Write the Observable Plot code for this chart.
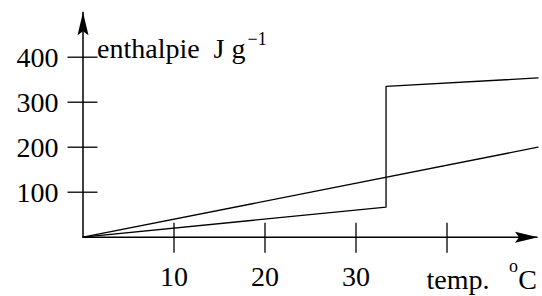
<!DOCTYPE html>
<html>
<head>
<meta charset="utf-8">
<script src="https://cdn.jsdelivr.net/npm/d3@7"></script>
<script src="https://cdn.jsdelivr.net/npm/@observablehq/plot@0.6"></script>
<style>
  html, body { margin: 0; padding: 0; background: #fff; }
  svg { display: block; }
</style>
</head>
<body>
<div id="chart"></div>
<script>
// Data
const tempA = [0, 50];
const enthA = [0, 200];
const tempB = [0, 33.3, 33.3, 50];
const enthB = [0, 67, 335, 354];
const xTicks = [10, 20, 30, 40];
const xTickLabels = ["10", "20", "30", ""];
const yTicks = [100, 200, 300, 400];
const yTickLabels = ["100", "200", "300", "400"];
const yLabel = "enthalpie  J g";
const yLabelSup = "\u22121";
const xLabel = "temp.";
const xLabelSup = "o";
const xLabelUnit = "C";

const lineA = tempA.map((t, i) => ({t, h: enthA[i]}));
const lineB = tempB.map((t, i) => ({t, h: enthB[i]}));

const arrowHead = {
  draw(context) {
    context.moveTo(0, 0);
    context.lineTo(-23, -5.5);
    context.lineTo(-19, 0);
    context.lineTo(-23, 5.5);
    context.closePath();
  }
};

const font = "Liberation Serif, Times New Roman, serif";
const fs = 28;
const fsSup = 18;

const chart = Plot.plot({
  width: 542,
  height: 296,
  marginLeft: 82.5,
  marginRight: 4.5,
  marginTop: 11.7,
  marginBottom: 59.3,
  x: {domain: [0, 50], axis: null},
  y: {domain: [0, 500], axis: null},
  style: {fontFamily: font, background: "#fff"},
  marks: [
    Plot.ruleY([0], {stroke: "#000", strokeWidth: 1.5}),
    Plot.ruleX([0], {stroke: "#000", strokeWidth: 1.5}),
    Plot.ruleX(xTicks, {x: d => d, y1: 0, y2: 0, insetTop: -14, insetBottom: -16, stroke: "#000", strokeWidth: 1.3}),
    Plot.ruleY(yTicks, {y: d => d, x1: 0, x2: 0, insetLeft: -15, insetRight: -15, stroke: "#000", strokeWidth: 1.3}),
    Plot.dot([{t: 50, h: 0}], {x: "t", y: "h", symbol: arrowHead, r: 5, fill: "#000", stroke: null}),
    Plot.dot([{t: 0, h: 500}], {x: "t", y: "h", symbol: arrowHead, r: 5, fill: "#000", stroke: null, rotate: -90}),
    Plot.line(lineA, {x: "t", y: "h", stroke: "#000", strokeWidth: 1.3}),
    Plot.line(lineB, {x: "t", y: "h", stroke: "#000", strokeWidth: 1.3}),
    Plot.text(xTicks, {x: d => d, y: 0, text: (d, i) => xTickLabels[i], dy: 48.5, lineAnchor: "bottom", fontSize: fs, fill: "#000"}),
    Plot.text(yTicks, {x: 0, y: d => d, text: (d, i) => yTickLabels[i], dx: -24.5, dy: 10, textAnchor: "end", lineAnchor: "bottom", fontSize: fs, fill: "#000"}),
    Plot.text([yLabel], {x: 0, y: 400, text: d => d, dx: 14, dy: 0.5, textAnchor: "start", lineAnchor: "bottom", fontSize: fs, fill: "#000"}),
    Plot.text([yLabelSup], {x: 0, y: 400, text: d => d, dx: 164.5, dy: -12.5, textAnchor: "start", lineAnchor: "bottom", fontSize: fsSup, fill: "#000"}),
    Plot.text([xLabel], {x: 50, y: 0, text: d => d, dx: -111.5, dy: 51.3, textAnchor: "start", lineAnchor: "bottom", fontSize: fs, fill: "#000"}),
    Plot.text([xLabelSup], {x: 50, y: 0, text: d => d, dx: -29, dy: 35, textAnchor: "start", lineAnchor: "bottom", fontSize: fsSup, fill: "#000"}),
    Plot.text([xLabelUnit], {x: 50, y: 0, text: d => d, dx: -1, dy: 51.3, textAnchor: "end", lineAnchor: "bottom", fontSize: fs, fill: "#000"})
  ]
});
document.getElementById("chart").appendChild(chart);
</script>
</body>
</html>
